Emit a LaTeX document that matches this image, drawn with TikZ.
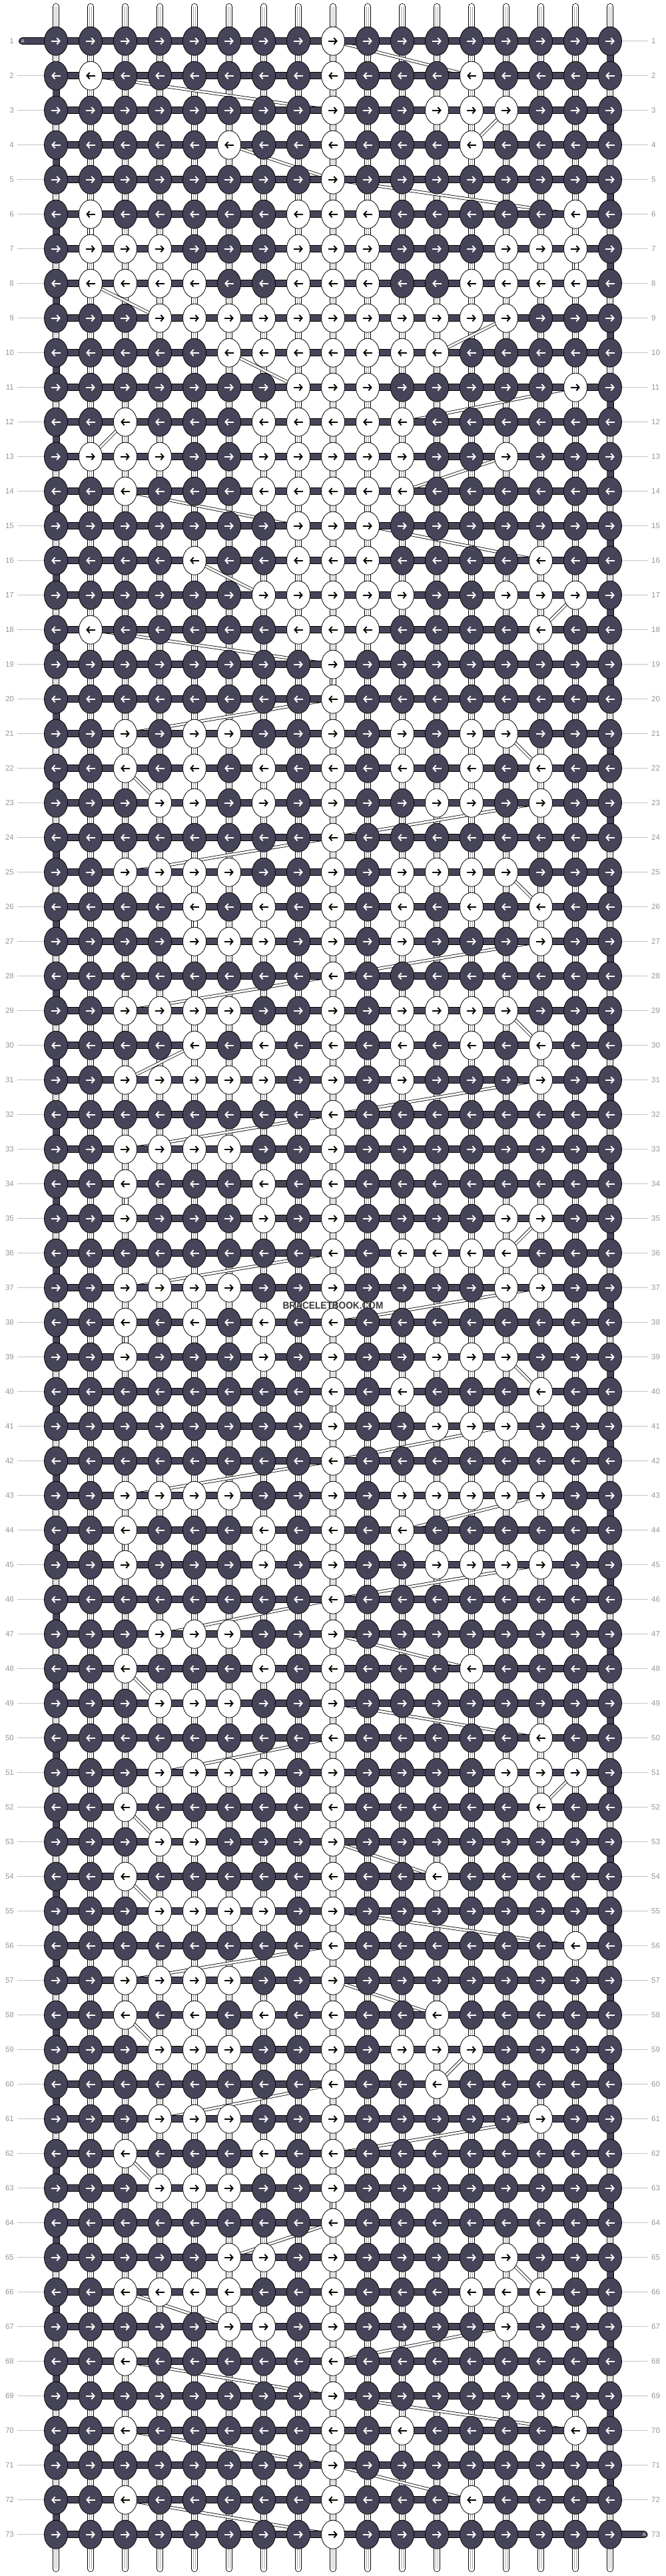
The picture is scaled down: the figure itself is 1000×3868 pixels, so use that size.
\documentclass[tikz,border=0pt]{standalone}
\usepackage{fontspec}
\setmainfont{Liberation Sans}
\usepackage{tikz}
\usetikzlibrary{shapes.geometric, arrows.meta, positioning, calc}
\definecolor{knotdark}{RGB}{70,68,88}
\definecolor{labelgray}{RGB}{150,150,150}
\definecolor{tickgray}{RGB}{195,195,195}
\definecolor{coregray}{RGB}{170,170,170}
\tikzset{
    knot/.style={
        ellipse,
        draw=black,
        line width=0.8pt,
        minimum width=35pt,
        minimum height=43pt,
        inner sep=0pt,
    },
    darkknot/.style={
        knot,
        fill=knotdark,
    },
    lightknot/.style={
        knot,
        fill=white,
    },
    knotarrow/.style={
        line width=1.9pt,
        -{Straight Barb[length=4.2pt, width=9.5pt]},
    },
    strand/.style={
        line width=0.8pt,
        double=white,
        double distance=8.6pt,
        line cap=round,
    },
    strandcore/.style={
        draw=coregray,
        line width=0.6pt,
        double=white,
        double distance=2.2pt,
    },
    bar/.style={
        line width=0.8pt,
        double=knotdark,
        double distance=9.4pt,
    },
    band/.style={
        line width=0.8pt,
        double=white,
        double distance=3pt,
    },
    rowlabel/.style={
        inner sep=0pt,
        text=labelgray,
        font=\fontsize{11.5}{12}\selectfont,
    },
    tick/.style={
        draw=tickgray,
        line width=1pt,
    },
    pinletter/.style={
        inner sep=0pt,
        text=white,
        font=\fontsize{7.5}{8}\selectfont,
    },
    watermark/.style={
        inner sep=0pt,
        text=black!78,
        font=\bfseries\fontsize{15}{16}\selectfont,
        xscale=0.91,
    },
}
% light knots of every row (columns, left to right)
\newcommand{\lightrow}[2]{\expandafter\gdef\csname wk-#1\endcsname{#2}}
\lightrow{1}{9}
\lightrow{2}{2,9,13}
\lightrow{3}{9,12,13,14}
\lightrow{4}{6,9,13}
\lightrow{5}{9}
\lightrow{6}{2,8,9,10,16}
\lightrow{7}{2,3,4,8,9,10,14,15,16}
\lightrow{8}{2,3,4,5,8,9,10,13,14,15,16}
\lightrow{9}{4,5,6,7,8,9,10,11,12,13,14}
\lightrow{10}{6,7,8,9,10,11,12}
\lightrow{11}{8,9,10,16}
\lightrow{12}{3,7,8,9,10,11}
\lightrow{13}{2,3,4,7,8,9,10,11,14}
\lightrow{14}{3,7,8,9,10,11}
\lightrow{15}{8,9,10}
\lightrow{16}{5,8,9,10,15}
\lightrow{17}{7,8,9,10,11,14,15,16}
\lightrow{18}{2,8,9,10,15}
\lightrow{19}{9}
\lightrow{20}{9}
\lightrow{21}{3,5,6,9,11,13,14}
\lightrow{22}{3,5,7,9,11,13,15}
\lightrow{23}{4,5,7,9,12,13,15}
\lightrow{24}{9}
\lightrow{25}{3,4,5,6,9,11,12,13,14}
\lightrow{26}{5,7,9,11,13,15}
\lightrow{27}{5,6,7,9,11,15}
\lightrow{28}{9}
\lightrow{29}{3,4,5,6,9,11,12,13,14}
\lightrow{30}{5,7,9,11,13,15}
\lightrow{31}{3,4,5,6,7,9,11,15}
\lightrow{32}{9}
\lightrow{33}{3,4,5,6,9}
\lightrow{34}{3,7,9}
\lightrow{35}{3,7,9,14,15}
\lightrow{36}{9,11,12,13,14}
\lightrow{37}{3,4,5,6,9,14,15}
\lightrow{38}{3,5,7,9}
\lightrow{39}{3,7,9,12,13,14}
\lightrow{40}{9,11,15}
\lightrow{41}{9,12,13,14}
\lightrow{42}{9}
\lightrow{43}{3,4,5,6,9,11,12,13,14,15}
\lightrow{44}{3,7,9,11}
\lightrow{45}{3,7,9,12,13,14,15}
\lightrow{46}{9}
\lightrow{47}{4,5,6,9}
\lightrow{48}{3,7,9,13}
\lightrow{49}{4,5,6,9}
\lightrow{50}{9,15}
\lightrow{51}{4,5,6,7,9,14,15,16}
\lightrow{52}{3,9,15}
\lightrow{53}{4,5,9}
\lightrow{54}{3,9,12}
\lightrow{55}{4,5,6,7,9}
\lightrow{56}{9,16}
\lightrow{57}{3,4,5,6,9}
\lightrow{58}{3,5,7,9,12}
\lightrow{59}{4,5,6,9,11,12,13}
\lightrow{60}{9,12}
\lightrow{61}{4,5,6,9,15}
\lightrow{62}{3,7,9}
\lightrow{63}{4,5,6,9}
\lightrow{64}{9}
\lightrow{65}{6,7,9,14}
\lightrow{66}{3,4,5,6,9,13,14,15}
\lightrow{67}{6,7,9,14}
\lightrow{68}{3,9}
\lightrow{69}{9}
\lightrow{70}{3,9,11,16}
\lightrow{71}{9}
\lightrow{72}{3,9,13}
\lightrow{73}{9}

\begin{document}
\begin{tikzpicture}[x=1pt, y=-1pt]
    \useasboundingbox (0,0) rectangle (1000,3868);

    % grid of knot positions
    \foreach \r in {1,...,73}{
        \foreach \c in {1,...,17}{
            \coordinate (p-\r-\c) at ({84+52*(\c-1)}, {61.7+52*(\r-1)});
        }
    }

    % vertical strings
    \foreach \c in {1,...,17}{
        \coordinate (top-\c) at ({84+52*(\c-1)}, 10);
        \coordinate (bot-\c) at ({84+52*(\c-1)}, 3857);
        \draw[strand] (top-\c) -- (bot-\c);
        \draw[strandcore] (top-\c) -- (bot-\c);
    }

    % light string passing behind between rows
    \foreach \r [count=\rn from 2] in {1,...,72}{
        \edef\wa{\csname wk-\r\endcsname}
        \edef\wb{\csname wk-\rn\endcsname}
        \ifodd\r
            \pgfmathtruncatemacro\ca{max(\wa,0)}
            \pgfmathtruncatemacro\cb{max(\wb,0)}
        \else
            \pgfmathtruncatemacro\ca{min(\wa,99)}
            \pgfmathtruncatemacro\cb{min(\wb,99)}
        \fi
        \draw[band] (p-\r-\ca) -- (p-\rn-\cb);
    }

    % working string: rows and turns
    \foreach \r in {1,...,73}{
        \foreach \c [count=\cn from 2] in {1,...,16}{
            \draw[bar] (p-\r-\c) -- (p-\r-\cn);
        }
    }
    \foreach \r [count=\rn from 2] in {1,...,72}{
        \pgfmathtruncatemacro\tc{isodd(\r) ? 17 : 1}
        \draw[bar] (p-\r-\tc) -- (p-\rn-\tc);
    }
    \coordinate (startA) at (33.6,61.7);
    \coordinate (endA) at (967,3805.7);
    \draw[bar, line cap=round] (startA) -- (p-1-1);
    \draw[bar, line cap=round] (p-73-17) -- (endA);
    \node[pinletter, anchor=west] (letter-start) at (31.5,61.7) {A};
    \node[pinletter, anchor=east] (letter-end) at (970,3805.7) {A};

    % knots
    \foreach \r in {1,...,73}{
        \edef\wl{\csname wk-\r\endcsname}
        \foreach \c in {1,...,17}{
            \gdef\kstyle{darkknot}\gdef\astyle{white}
            \foreach \w in \wl {\ifnum\w=\c\relax\gdef\kstyle{lightknot}\gdef\astyle{black}\fi}
            \node[\kstyle] (k-\r-\c) at (p-\r-\c) {};
            \ifodd\r
                \draw[knotarrow, draw=\astyle] ([xshift=-6.8pt]k-\r-\c.center) -- ([xshift=6.8pt]k-\r-\c.center);
            \else
                \draw[knotarrow, draw=\astyle] ([xshift=6.8pt]k-\r-\c.center) -- ([xshift=-6.8pt]k-\r-\c.center);
            \fi
        }
    }

    % row numbers
    \foreach \r in {1,...,73}{
        \node[rowlabel, anchor=east] (ln-\r) at (21,{61.7+52*(\r-1)}) {\r};
        \node[rowlabel, anchor=west] (rn-\r) at (978,{61.7+52*(\r-1)}) {\r};
    }
    \foreach \r in {2,...,73}{
        \draw[tick] ([xshift=5pt]ln-\r.east) -- (k-\r-1);
    }
    \foreach \r in {1,...,72}{
        \draw[tick] (k-\r-17) -- ([xshift=-5pt]rn-\r.west);
    }

    \node[watermark] (wm) at (500,1960) {BRACELETBOOK.COM};
\end{tikzpicture}
\end{document}
